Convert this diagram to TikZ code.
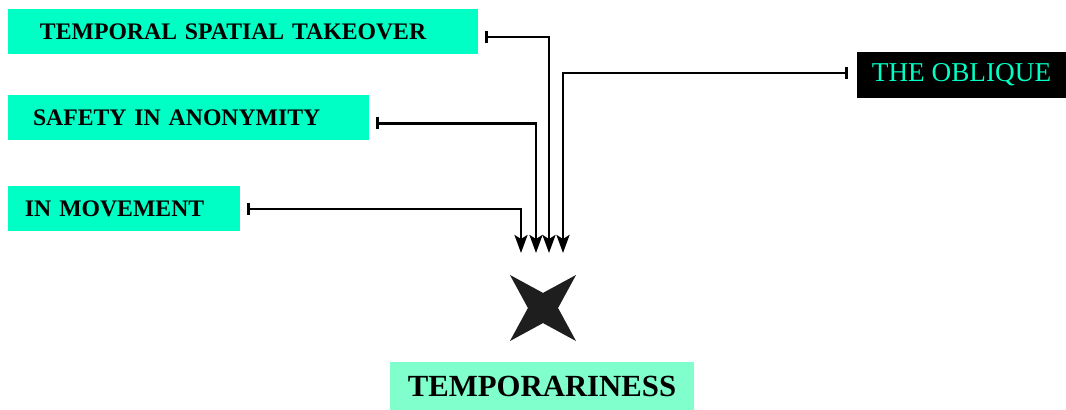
\documentclass[tikz,border=0pt]{standalone}
\usepackage{fontspec}
\setmainfont{Liberation Serif}
\usetikzlibrary{arrows.meta,shapes.geometric}

\definecolor{aqua}{HTML}{00FFC4}
\definecolor{mint}{HTML}{80FFCC}
\definecolor{ink}{HTML}{1E1E1E}

\tikzset{
  tag/.style={fill=aqua, minimum height=0.9cm, inner ysep=0pt, align=left, font=\fontsize{13.5}{16}\selectfont\bfseries},
  feed/.style={line width=1.5pt, {Bar[width=0.24cm]}-{Stealth[length=0.36cm, width=0.26cm, inset=0.08cm]}, shorten <=0.14cm}
}

\begin{document}
\begin{tikzpicture}
        \useasboundingbox (0,0) rectangle (21.32,8.2);

        % Define the nodes
        \node[tag, inner xsep=0.64cm, text width=8.12cm] (spatial) at (4.86,7.57) {TEMPORAL SPATIAL TAKEOVER};
        \node[tag, inner xsep=0.5cm, text width=6.22cm] (safety) at (3.77,5.84) {SAFETY IN ANONYMITY};
        \node[tag, inner xsep=0.34cm, text width=3.96cm] (move) at (2.48,4.02) {IN MOVEMENT};
        \node[tag, fill=black, text=aqua, align=center, inner xsep=0pt, font=\fontsize{15.5}{18}\selectfont, minimum width=4.18cm, minimum height=0.92cm] (oblique) at (19.23,6.7) {THE OBLIQUE};
        \node[tag, fill=mint, align=center, inner xsep=0pt, font=\fontsize{17.5}{21}\selectfont\bfseries, minimum width=6.08cm, minimum height=0.96cm] (temp) at (10.84,0.48) {TEMPORARINESS};
        \node[star, star points=4, star point ratio=3.1, shape border rotate=45, fill=ink, minimum size=1.87cm, inner sep=0pt] (hub) at (10.86,2.04) {};

        % Arrow ends above the star
        \coordinate (in1) at (10.42,3.14);
        \coordinate (in2) at (10.72,3.14);
        \coordinate (in3) at (10.98,3.14);
        \coordinate (in4) at (11.26,3.14);

        % Draw the edges
        \draw[feed] (move.east) -| (in1);
        \draw[feed] ([yshift=-0.11cm]safety.east) -| (in2);
        \draw[feed] ([yshift=-0.11cm]spatial.east) -| (in3);
        \draw[feed, shorten <=0.18cm] ([yshift=0.04cm]oblique.west) -| (in4);
    \end{tikzpicture}
\end{document}
